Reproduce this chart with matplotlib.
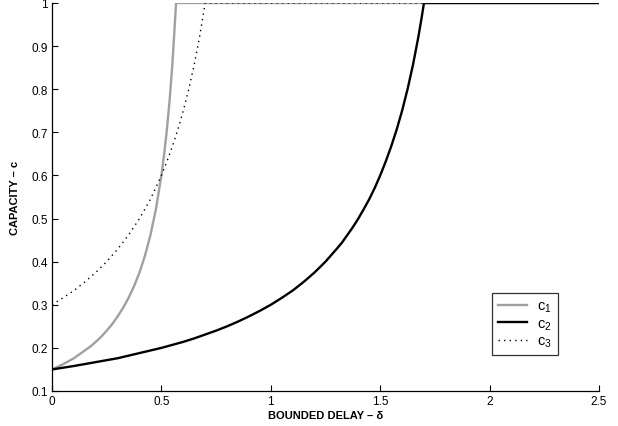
import matplotlib
matplotlib.use("Agg")
import matplotlib.pyplot as plt

plt.rcParams['font.family'] = ['Liberation Sans', 'DejaVu Sans']
plt.rcParams['mathtext.fontset'] = 'custom'
plt.rcParams['mathtext.rm'] = 'Liberation Sans'
plt.rcParams['mathtext.it'] = 'Liberation Sans'

# data
delta_c1 = [0.0, 0.025, 0.05, 0.075, 0.1, 0.125, 0.15, 0.175, 0.2, 0.225, 0.25, 0.275, 0.3, 0.325,
            0.35, 0.375, 0.4, 0.425, 0.45, 0.475, 0.5, 0.5125, 0.525, 0.5375, 0.55, 0.558, 0.567, 2.5]
c1 = [0.150, 0.156, 0.162, 0.169, 0.176, 0.185, 0.194, 0.203, 0.214, 0.226, 0.240, 0.255, 0.273,
      0.293, 0.316, 0.343, 0.375, 0.414, 0.462, 0.522, 0.600, 0.649, 0.706, 0.774, 0.857, 0.923,
      1.0, 1.0]

delta_c2 = [0.0, 0.1, 0.2, 0.3, 0.4, 0.5, 0.6, 0.65, 0.7, 0.75, 0.8, 0.85, 0.9, 0.95, 1.0, 1.05,
            1.1, 1.15, 1.2, 1.25, 1.3, 1.325, 1.35, 1.375, 1.4, 1.425, 1.45, 1.475, 1.5, 1.525,
            1.55, 1.575, 1.6, 1.625, 1.65, 1.675, 1.69, 1.7, 2.5]
c2 = [0.150, 0.158, 0.167, 0.176, 0.188, 0.200, 0.214, 0.222, 0.231, 0.240, 0.250, 0.261, 0.273,
      0.286, 0.300, 0.316, 0.333, 0.353, 0.375, 0.400, 0.429, 0.444, 0.462, 0.480, 0.500, 0.522,
      0.545, 0.571, 0.600, 0.632, 0.667, 0.706, 0.750, 0.800, 0.857, 0.923, 0.968, 1.0, 1.0]

delta_c3 = [0.0, 0.05, 0.1, 0.15, 0.2, 0.25, 0.3, 0.35, 0.4, 0.45, 0.5, 0.525, 0.55, 0.575, 0.6,
            0.625, 0.65, 0.675, 0.7, 2.5]
c3 = [0.300, 0.316, 0.333, 0.353, 0.375, 0.400, 0.429, 0.462, 0.500, 0.545, 0.600, 0.632, 0.667,
      0.706, 0.750, 0.800, 0.857, 0.923, 1.0, 1.0]

x_ticks = [0, 0.5, 1, 1.5, 2, 2.5]
x_tick_labels = ['0', '0.5', '1', '1.5', '2', '2.5']
y_ticks = [0.1, 0.2, 0.3, 0.4, 0.5, 0.6, 0.7, 0.8, 0.9, 1.0]
y_tick_labels = ['0.1', '0.2', '0.3', '0.4', '0.5', '0.6', '0.7', '0.8', '0.9', '1']

fig = plt.figure(figsize=(6.18, 4.27), dpi=100)
ax = fig.add_axes([52/618, 1-392/427, (599-52)/618, (392-4)/427])

ax.plot(delta_c3, c3, color='black', lw=1.0, linestyle=(0, (1, 3)), label=r'$\mathregular{c_3}$', zorder=3)
ax.plot(delta_c1, c1, color='#a0a0a0', lw=1.7, label=r'$\mathregular{c_1}$', zorder=2)
ax.plot(delta_c2, c2, color='black', lw=1.7, label=r'$\mathregular{c_2}$', zorder=4)

ax.set_xlim(0, 2.5)
ax.set_ylim(0.1, 1.0)
ax.set_xticks(x_ticks)
ax.set_xticklabels(x_tick_labels)
ax.set_yticks(y_ticks)
ax.set_yticklabels(y_tick_labels)
ax.tick_params(direction='in', length=4, width=0.8, labelsize=8.5, pad=3)
for s in ['top', 'right']:
    ax.spines[s].set_visible(False)
for s in ['left', 'bottom']:
    ax.spines[s].set_linewidth(0.9)

ax.set_xlabel('BOUNDED DELAY – δ', fontsize=8, fontweight='bold', labelpad=2)
ax.set_ylabel('CAPACITY – c', fontsize=8, fontweight='bold', labelpad=8)

handles, labels = ax.get_legend_handles_labels()
order = [1, 2, 0]
leg = ax.legend([handles[i] for i in order], [labels[i] for i in order],
                loc='upper left', bbox_to_anchor=((492-52)/547, (392-294)/388),
                fontsize=10.5, frameon=True, fancybox=False, handlelength=2.0,
                handletextpad=0.7, labelspacing=0.15, borderpad=0.4, borderaxespad=0)
leg.get_frame().set_edgecolor('black')
leg.get_frame().set_linewidth(0.9)

fig.savefig('out.png', dpi=100)
